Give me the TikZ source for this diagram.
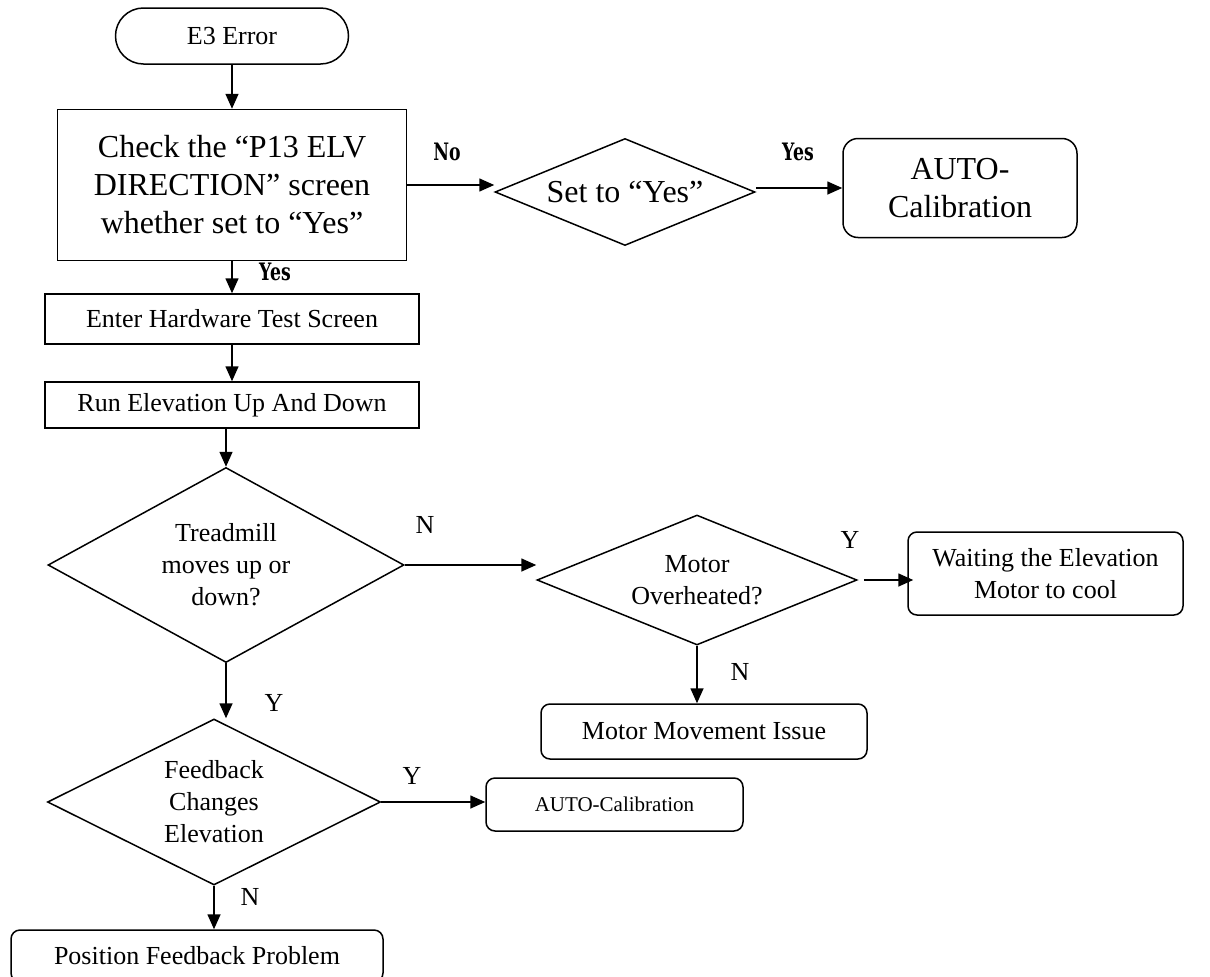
\documentclass[tikz,border=0pt]{standalone}
\usepackage{fontspec}
\setmainfont{Liberation Serif}
\newfontfamily\heavyfont{DejaVu Serif}
\usepackage{graphicx}
\usetikzlibrary{arrows.meta,positioning,shapes.geometric}

\tikzset{
  box/.style={draw, line width=1.5pt, align=center, inner sep=0pt},
  roundbox/.style={box, rounded corners=9pt},
  decision/.style={draw, diamond, line width=1.5pt, align=center, inner sep=0pt},
  arr/.style={line width=1.6pt, -{Triangle[length=15pt,width=13pt]}},
  txt/.style={font=\fontsize{26pt}{32pt}\selectfont},
  bigtxt/.style={font=\fontsize{32pt}{38pt}\selectfont},
  heavy/.style={font=\fontsize{24pt}{28pt}\heavyfont\bfseries}
}
\newcommand{\heavytext}[1]{\scalebox{0.72}[1]{#1}}

\begin{document}
\begin{tikzpicture}[x=1pt, y=-1pt]
    \path[use as bounding box, clip] (0,0) rectangle (1210,977);

    % Start
    \node[box, txt, rounded corners=27.9pt, minimum width=233pt, minimum height=56pt] (e3) at (232,36) {E3 Error};

    % Check P13 screen
    \node[box, bigtxt, minimum width=349pt, minimum height=151pt] (check) at (232,185)
        {Check the “P13 ELV\\DIRECTION” screen\\whether set to “Yes”};
    \node[decision, bigtxt, aspect=2.43, minimum width=260pt, minimum height=107pt] (settoyes) at (625,192) {Set to “Yes”};
    \node[roundbox, bigtxt, rounded corners=15pt, minimum width=234pt, minimum height=99pt] (autocalA) at (960,188) {AUTO-\\Calibration};

    % Hardware test
    \node[box, txt, minimum width=374pt, minimum height=50pt] (enter) at (232,319) {Enter Hardware Test Screen};
    \node[box, txt, minimum width=374pt, minimum height=46pt] (run) at (232,405) {Run Elevation Up And Down};

    % Decisions
    \node[decision, txt, aspect=1.83, minimum width=356pt, minimum height=195pt] (tread) at (226,565) {Treadmill\\moves up or\\down?};
    \node[decision, txt, aspect=2.46, minimum width=320pt, minimum height=130pt] (motor) at (697,580) {Motor\\Overheated?};
    \node[roundbox, txt, minimum width=275pt, minimum height=83pt] (waitcool) at (1045.5,573.5) {Waiting the Elevation\\Motor to cool};
    \node[roundbox, txt, minimum width=326pt, minimum height=55pt] (movement) at (704,731.5) {Motor Movement Issue};
    \node[decision, txt, aspect=2.0, minimum width=333pt, minimum height=166pt] (feedback) at (214,802) {Feedback\\Changes\\Elevation};
    \node[roundbox, font=\fontsize{21pt}{25pt}\selectfont, minimum width=257pt, minimum height=53pt] (autocalB) at (614.5,804.5) {AUTO-Calibration};
    \node[roundbox, txt, minimum width=372pt, minimum height=52pt] (posfb) at (197,956) {Position Feedback Problem};

    % Connectors
    \draw[arr] (e3) -- (check);
    \draw[arr] (check) -- (enter);
    \draw[arr] (enter) -- (run);
    \draw[arr] (run.south -| tread.north) -- (tread.north);
    \draw[arr] (check.east) -- (check.east -| settoyes.west);
    \draw[arr] (autocalA.west -| settoyes.east) -- (autocalA.west);
    \draw[arr] (tread.east) -- (tread.east -| motor.west);
    \draw[arr] ([xshift=6pt]motor.east) -- ([xshift=6pt]motor.east -| waitcool.west);
    \draw[arr] (motor.south) -- (motor.south |- movement.north);
    \draw[arr] (tread.south) -- (tread.south |- feedback.north);
    \draw[arr] (feedback.east) -- (feedback.east -| autocalB.west);
    \draw[arr] (feedback.south) -- (feedback.south |- posfb.north);

    % Branch labels
    \node[heavy] (lblNo) at (447,152) {\heavytext{No}};
    \node[heavy] (lblYesA) at (798,152) {\heavytext{Yes}};
    \node[heavy] (lblYesB) at (275,272) {\heavytext{Yes}};
    \node[txt] (lblN1) at (425,525) {N};
    \node[txt] (lblY1) at (850,540) {Y};
    \node[txt] (lblN2) at (740,672) {N};
    \node[txt] (lblY2) at (274,703) {Y};
    \node[txt] (lblY3) at (412,776) {Y};
    \node[txt] (lblN3) at (250,897) {N};
\end{tikzpicture}
\end{document}
